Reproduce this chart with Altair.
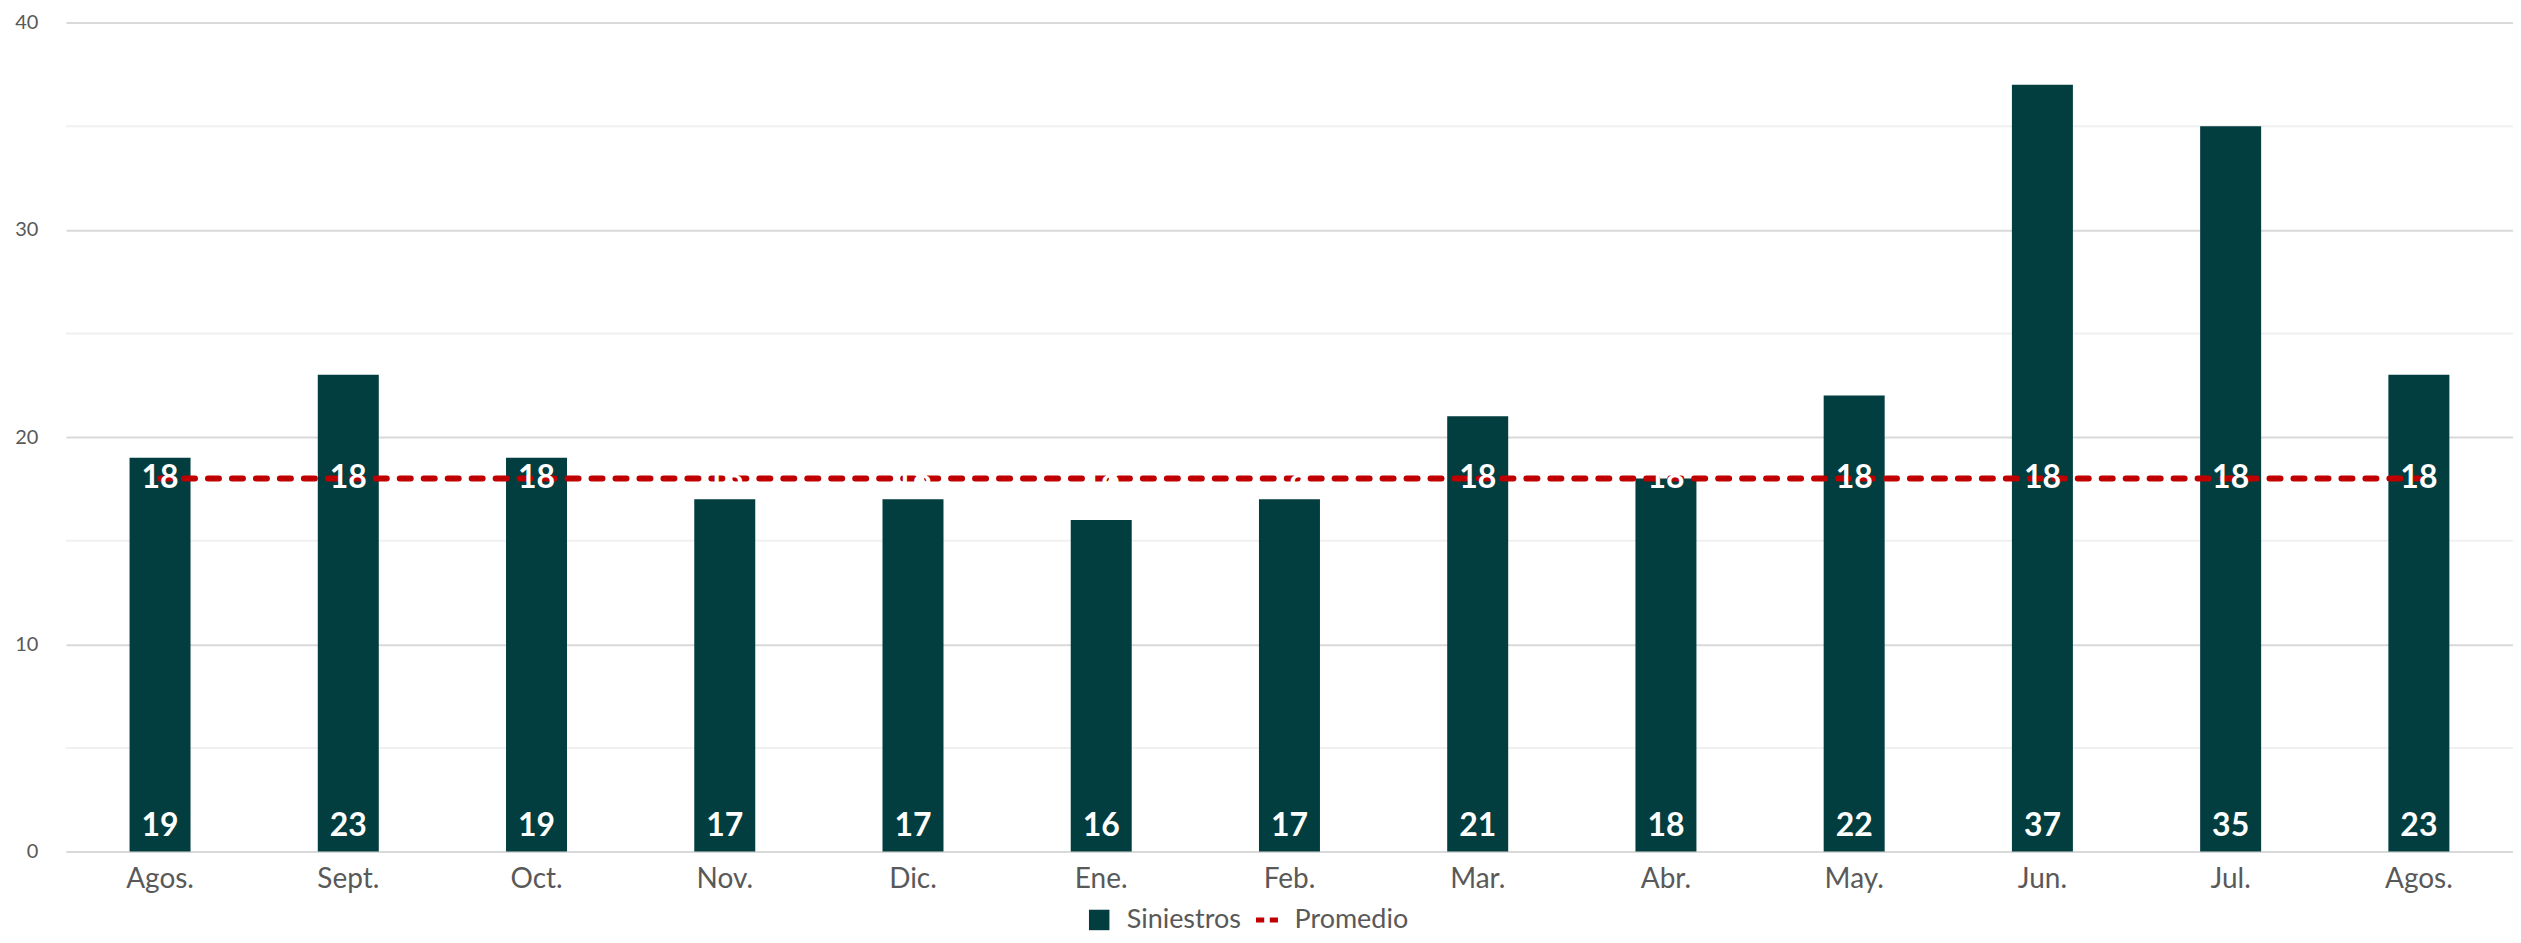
import altair as alt
import pandas as pd

meses = ["Agos.", "Sept.", "Oct.", "Nov.", "Dic.", "Ene.", "Feb.", "Mar.", "Abr.", "May.", "Jun.", "Jul.", "Agos."]
siniestros = [19, 23, 19, 17, 17, 16, 17, 21, 18, 22, 37, 35, 23]
promedio = [18] * 13
grid_menor = [5, 15, 25, 35]

BAR = "#023d3f"
RED = "#c00000"
FONT = "Lato"

df = pd.DataFrame({
    "idx": list(range(len(meses))),
    "mes": meses,
    "Siniestros": siniestros,
    "Promedio": promedio,
    "serie": ["Siniestros"] * len(meses),
    "serie2": ["Promedio"] * len(meses),
})
df_grid = pd.DataFrame({"v": grid_menor})

label_expr = "[" + ",".join("'%s'" % m for m in meses) + "][datum.value]"

x = alt.X("idx:O", title=None,
          scale=alt.Scale(paddingInner=0.676, paddingOuter=0.338),
          axis=alt.Axis(labelExpr=label_expr, labelAngle=0, labelFont=FONT,
                        labelFontSize=28, labelColor="#595959", labelPadding=14,
                        ticks=False, domain=False, grid=False))
yscale = alt.Scale(domain=[0, 40])

base = alt.Chart(df)

minor = alt.Chart(df_grid).mark_rule(color="#f0f0f0", strokeWidth=2).encode(
    y=alt.Y("v:Q", scale=yscale))

leg_common = dict(title=None, orient="none", direction="horizontal", labelFontSize=27,
                  labelFont=FONT, labelColor="#595959", labelOffset=14, padding=0)

bars = base.mark_bar(color=BAR).encode(
    x=x,
    y=alt.Y("Siniestros:Q", scale=yscale, title=None,
            axis=alt.Axis(values=[0, 10, 20, 30, 40], labelFont=FONT, labelFontSize=20,
                          labelColor="#595959", labelPadding=28, ticks=False,
                          domain=False, gridColor="#d9d9d9", gridWidth=2)),
    color=alt.Color("serie:N",
                    scale=alt.Scale(domain=["Siniestros"], range=[BAR]),
                    legend=alt.Legend(legendX=1021, legendY=885, symbolType="square",
                                      symbolSize=420, symbolStrokeWidth=0, **leg_common)),
)

line = base.mark_line(strokeWidth=6, strokeDash=[11, 13], strokeCap="round").encode(
    x=x, y=alt.Y("Promedio:Q", scale=yscale),
    stroke=alt.Stroke("serie2:N", scale=alt.Scale(domain=["Promedio"], range=[RED]),
                      legend=alt.Legend(legendX=1189, legendY=885,
                                        symbolType="M-1.1,0L-0.28,0M0.28,0L1.1,0",
                                        symbolSize=400, symbolStrokeWidth=5, **leg_common)),
)

line_labels = base.mark_text(color="white", font=FONT, fontSize=32, fontWeight="bold",
                             baseline="middle", align="center").encode(
    x=x, y=alt.Y("Promedio:Q", scale=yscale), text=alt.Text("Promedio:Q"))

bar_labels = base.mark_text(color="white", font=FONT, fontSize=32, fontWeight="bold",
                            baseline="alphabetic", align="center", dy=-16).encode(
    x=x, y=alt.datum(0, scale=yscale), text=alt.Text("Siniestros:Q"))

chart = alt.layer(minor, bars, line, line_labels, bar_labels).properties(
    width=2450, height=830,
    autosize=alt.AutoSizeParams(type="none"),
    padding={"left": 58, "top": 14, "right": 0, "bottom": 83},
).configure_view(stroke=None)

chart.save("out.html", embed_options={"renderer": "svg", "actions": False})
